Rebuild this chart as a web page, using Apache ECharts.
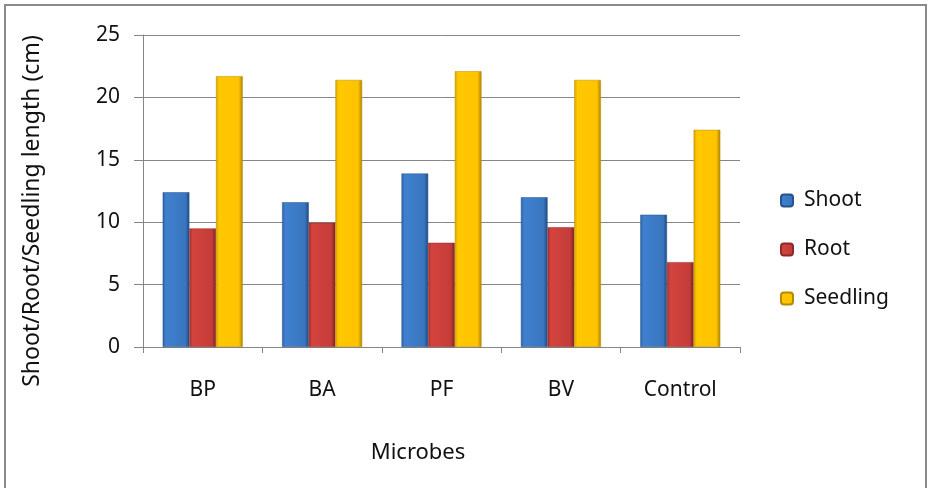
<!DOCTYPE html>
<html><head><meta charset="utf-8">
<script src="https://cdn.jsdelivr.net/npm/echarts@6/dist/echarts.min.js"></script>
<style>html,body{margin:0;padding:0;background:#fff}#c{width:929px;height:488px}</style>
</head><body><div id="c"></div>
<script>
const categories = ['BP', 'BA', 'PF', 'BV', 'Control'];
const shoot = [12.4, 11.6, 13.9, 12.0, 10.6];
const root = [9.5, 9.95, 8.35, 9.6, 6.8];
const seedling = [21.7, 21.4, 22.1, 21.4, 17.4];
const yTicks = [0, 5, 10, 15, 20, 25];

const FONT = 'Noto Sans';
function grad(c0, c1, c2, c3) {
  return new echarts.graphic.LinearGradient(0, 0, 1, 0, [
    {offset: 0, color: c0}, {offset: 0.12, color: c1},
    {offset: 0.85, color: c2}, {offset: 1, color: c3}
  ]);
}
const chart = echarts.init(document.getElementById('c'), null, {renderer: 'canvas'});
chart.setOption({
  animation: false,
  backgroundColor: '#fff',
  textStyle: {fontFamily: FONT},
  grid: {left: 143, right: 189, top: 35, bottom: 141, containLabel: false},
  legend: {
    orient: 'vertical', left: 775, top: 185, itemWidth: 12, itemHeight: 12, itemGap: 28,
    textStyle: {fontFamily: FONT, fontSize: 21, color: '#111', padding: [0,0,0,6]},
    data: ['Shoot', 'Root', 'Seedling']
  },
  xAxis: {
    type: 'category', data: categories, boundaryGap: true,
    axisLine: {lineStyle: {color: '#868686', width: 1}},
    axisTick: {show: true, length: 6, alignWithLabel: false, lineStyle: {color: '#868686'}},
    axisLabel: {fontFamily: FONT, fontSize: 21, color: '#111', margin: 33}
  },
  yAxis: {
    type: 'value', min: 0, max: 25, interval: 5,
    axisLine: {show: true, lineStyle: {color: '#868686', width: 1}},
    axisTick: {show: true, length: 9, lineStyle: {color: '#868686'}},
    splitLine: {show: true, lineStyle: {color: '#868686', width: 1}},
    axisLabel: {fontFamily: FONT, fontSize: 21, color: '#111', margin: 23,
      formatter: v => yTicks.includes(v) ? String(v) : ''}
  },
  series: [
    {name: 'Shoot', type: 'bar', data: shoot, barGap: '0%', barCategoryGap: '33%',
      itemStyle: {color: grad('#2d62a3', '#3f80cf', '#3a76bf', '#1d4a80'), borderColor: '#24528c', borderWidth: 0.5}},
    {name: 'Root', type: 'bar', data: root,
      itemStyle: {color: grad('#a32f2c', '#d4443f', '#c43c39', '#7a2220'), borderColor: '#8c2a27', borderWidth: 0.5}},
    {name: 'Seedling', type: 'bar', data: seedling,
      itemStyle: {color: grad('#d9a400', '#ffc800', '#ffc300', '#ad8200'), borderColor: '#b58a00', borderWidth: 0.5}}
  ],
  graphic: [
    {type: 'rect', shape: {x: 5, y: 5, width: 921, height: 520}, style: {fill: 'none', stroke: '#8a8a8a', lineWidth: 2}, silent: true},
    {type: 'text', x: 32, y: 211, rotation: Math.PI / 2,
      style: {text: 'Shoot/Root/Seedling length (cm)', font: '23px "Noto Sans"', fill: '#111', textAlign: 'center', textVerticalAlign: 'middle'}},
    {type: 'text', x: 418, y: 453,
      style: {text: 'Microbes', font: '22px "Noto Sans"', fill: '#111', textAlign: 'center', textVerticalAlign: 'middle'}}
  ]
});
</script></body></html>
